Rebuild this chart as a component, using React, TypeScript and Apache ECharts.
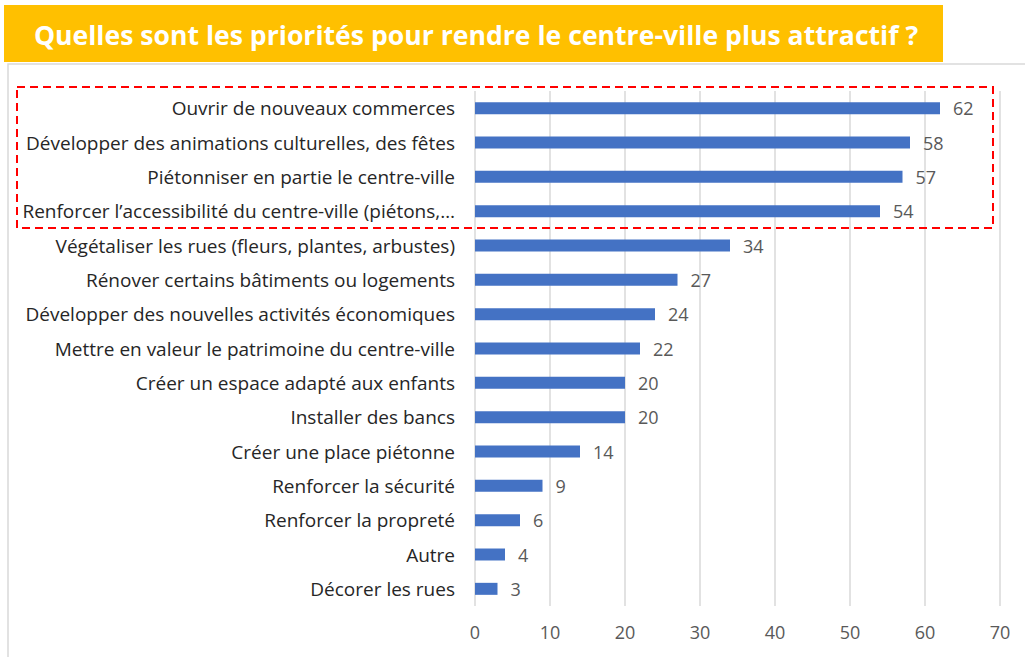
import React, { useEffect, useRef } from "react";
import * as echarts from "echarts";

const titleText = "Quelles sont les priorités pour rendre le centre-ville plus attractif ?";
const categories = [
  "Ouvrir de nouveaux commerces",
  "Développer des animations culturelles, des fêtes",
  "Piétonniser en partie le centre-ville",
  "Renforcer l’accessibilité du centre-ville (piétons,…",
  "Végétaliser les rues (fleurs, plantes, arbustes)",
  "Rénover certains bâtiments ou logements",
  "Développer des nouvelles activités économiques",
  "Mettre en valeur le patrimoine du centre-ville",
  "Créer un espace adapté aux enfants",
  "Installer des bancs",
  "Créer une place piétonne",
  "Renforcer la sécurité",
  "Renforcer la propreté",
  "Autre",
  "Décorer les rues",
];
const values = [62, 58, 57, 54, 34, 27, 24, 22, 20, 20, 14, 9, 6, 4, 3];
const axisMin = 0;
const axisMax = 70;
const axisInterval = 10;

export default function App() {
  const ref = useRef<HTMLDivElement>(null);
  useEffect(() => {
    document.body.style.margin = "0";
    const chart = echarts.init(ref.current!, null, { renderer: "svg" });
    const font = "'Open Sans', 'Noto Sans', sans-serif";
    chart.setOption({
      animation: false,
      backgroundColor: "#ffffff",
      textStyle: { fontFamily: font },
      grid: { left: 475, right: 25, top: 91, bottom: 51, containLabel: false },
      xAxis: {
        type: "value",
        min: axisMin,
        max: axisMax,
        interval: axisInterval,
        axisLine: { show: false },
        axisTick: { show: false },
        axisLabel: { color: "#595959", fontSize: 18, margin: 17, fontFamily: font },
        splitLine: { show: true, lineStyle: { color: "#D9D9D9", width: 1.5 } },
      },
      yAxis: {
        type: "category",
        inverse: true,
        data: categories,
        axisLine: { show: false },
        axisTick: { show: false },
        axisLabel: { color: "#262626", fontSize: 19, margin: 20, fontFamily: font },
      },
      series: [
        {
          type: "bar",
          data: values,
          barWidth: 12,
          itemStyle: { color: "#4472C4" },
          label: {
            show: true,
            position: "right",
            distance: 13,
            color: "#595959",
            fontSize: 18,
            fontFamily: font,
          },
        },
      ],
      graphic: [
        {
          type: "rect",
          shape: { x: 8, y: 64, width: 1030, height: 610 },
          style: { fill: "none", stroke: "#D9D9D9", lineWidth: 1.5 },
          silent: true,
          z: -1,
        },
        {
          type: "rect",
          shape: { x: 4, y: 5, width: 939, height: 57 },
          style: { fill: "#FFC000" },
          silent: true,
        },
        {
          type: "text",
          x: 476,
          y: 35,
          style: {
            text: titleText,
            fill: "#ffffff",
            font: "bold 26.6px 'Open Sans', 'Noto Sans', sans-serif",
            align: "center",
            verticalAlign: "middle",
          },
          silent: true,
        },
        {
          type: "rect",
          shape: { x: 17, y: 87, width: 976, height: 141 },
          style: { fill: "none", stroke: "#FF0000", lineWidth: 2, lineDash: [8, 5] },
          silent: true,
          z: 10,
        },
      ],
    });
    return () => chart.dispose();
  }, []);
  return <div ref={ref} style={{ width: 1025, height: 657 }} />;
}
